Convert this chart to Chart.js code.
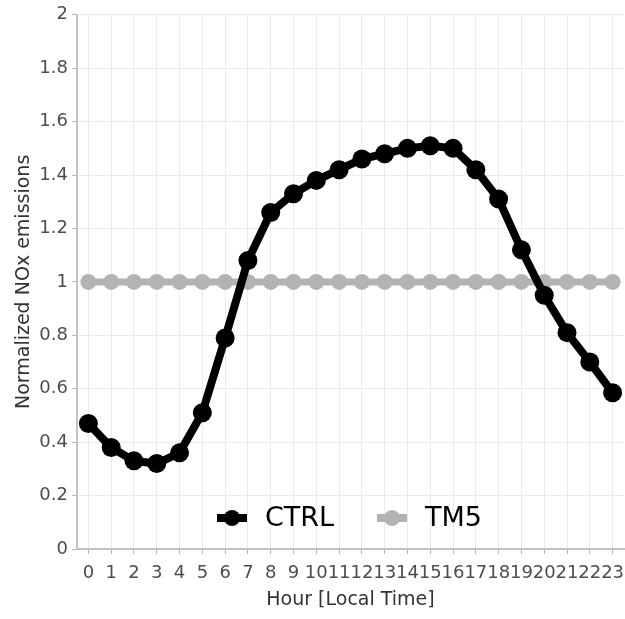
<!DOCTYPE html>
<html>
<head>
<meta charset="utf-8">
<script src="https://cdn.jsdelivr.net/npm/chart.js@4/dist/chart.umd.min.js"></script>
<style>
  html, body { margin: 0; padding: 0; background: #fff; }
  #wrap { width: 625px; height: 619px; }
</style>
</head>
<body>
<div id="wrap"><canvas id="chart"></canvas></div>
<script>
// hours of the day
const hours = ['0','1','2','3','4','5','6','7','8','9','10','11','12','13','14','15','16','17','18','19','20','21','22','23'];

// normalized NOx emissions
const ctrl = [0.47, 0.38, 0.33, 0.32, 0.36, 0.51, 0.79, 1.08, 1.26, 1.33, 1.38, 1.42,
              1.46, 1.48, 1.50, 1.51, 1.50, 1.42, 1.31, 1.12, 0.95, 0.81, 0.70, 0.585];
const tm5 = [1, 1, 1, 1, 1, 1, 1, 1, 1, 1, 1, 1, 1, 1, 1, 1, 1, 1, 1, 1, 1, 1, 1, 1];

const seriesNames = ['CTRL', 'TM5'];
const yTicks = { min: 0, max: 2, step: 0.2 };

const FONT = '"DejaVu Sans", sans-serif';

// legend drawn inside the plot, bottom centre
const insideLegend = {
  id: 'insideLegend',
  afterDatasetsDraw(chart) {
    const ctx = chart.ctx;
    const area = chart.chartArea;
    const y = area.bottom - 31;
    // legend in series order (CTRL first)
    const items = seriesNames.map(name => {
      const ds = chart.data.datasets.find(d => d.label === name);
      return { text: name, color: ds.borderColor };
    });
    ctx.save();
    ctx.font = '27px ' + FONT;
    ctx.textBaseline = 'middle';
    let x = 217;
    items.forEach(it => {
      ctx.strokeStyle = it.color;
      ctx.lineWidth = 8;
      ctx.beginPath();
      ctx.moveTo(x, y);
      ctx.lineTo(x + 30, y);
      ctx.stroke();
      ctx.fillStyle = it.color;
      ctx.beginPath();
      ctx.arc(x + 15, y, 8, 0, Math.PI * 2);
      ctx.fill();
      ctx.fillStyle = '#000';
      ctx.fillText(it.text, x + 48, y + 1);
      x += 160;
    });
    ctx.restore();
  }
};

new Chart(document.getElementById('chart'), {
  type: 'line',
  data: {
    labels: hours,
    datasets: [
      {
        label: seriesNames[1],
        data: tm5,
        borderColor: '#b3b3b3',
        backgroundColor: '#b3b3b3',
        borderWidth: 7,
        pointRadius: 8,
        pointBorderWidth: 0,
        pointHoverRadius: 8,
        tension: 0,
        order: 2
      },
      {
        label: seriesNames[0],
        data: ctrl,
        borderColor: '#000000',
        backgroundColor: '#000000',
        borderWidth: 8,
        pointRadius: 9.5,
        pointBorderWidth: 0,
        pointHoverRadius: 9.5,
        tension: 0,
        order: 1
      }
    ]
  },
  options: {
    responsive: true,
    maintainAspectRatio: false,
    animation: false,
    layout: { autoPadding: false, padding: { top: 14, right: 1, left: 0, bottom: 0 } },
    plugins: {
      legend: { display: false },
      tooltip: { enabled: false }
    },
    scales: {
      x: {
        offset: true,
        grid: {
          offset: false,
          color: '#ebebeb',
          lineWidth: 1,
          drawTicks: true,
          tickLength: 5,
          tickColor: '#b3b3b3'
        },
        border: { color: '#c4c4c4', width: 2 },
        ticks: {
          color: '#4d4d4d',
          font: { family: FONT, size: 18 },
          padding: 9,
          maxRotation: 0,
          autoSkip: false
        },
        title: {
          display: true,
          text: 'Hour [Local Time]',
          color: '#333333',
          font: { family: FONT, size: 19 },
          padding: { top: 8, bottom: 8 }
        },
        afterFit(scale) {
          scale.height = 70;
          scale.paddingLeft = 0;
          scale.paddingRight = 0;
        }
      },
      y: {
        min: yTicks.min,
        max: yTicks.max,
        grid: {
          color: '#ebebeb',
          lineWidth: 1,
          tickLength: 5,
          tickColor: '#b3b3b3'
        },
        border: { color: '#c4c4c4', width: 2 },
        ticks: {
          stepSize: yTicks.step,
          color: '#4d4d4d',
          font: { family: FONT, size: 18 },
          padding: 4,
          callback: v => String(+v.toFixed(1))
        },
        title: {
          display: true,
          text: 'Normalized NOx emissions',
          color: '#333333',
          font: { family: FONT, size: 19 },
          padding: { top: 13, bottom: 13 }
        },
        afterFit(scale) { scale.width = 77; }
      }
    }
  },
  plugins: [insideLegend]
});
</script>
</body>
</html>
